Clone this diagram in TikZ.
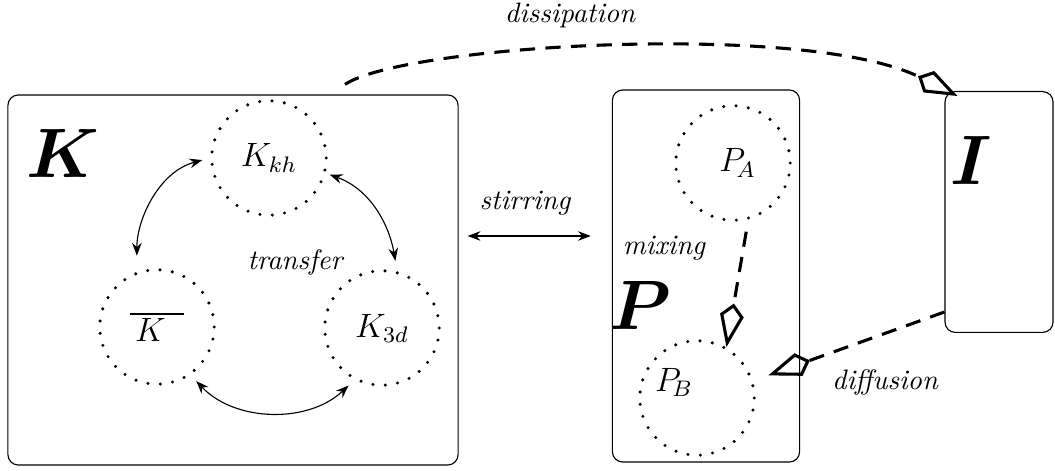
\documentclass[tikz,border=0pt]{standalone}
\usepackage{amsmath}
\usepackage{tikz}
\usetikzlibrary{arrows.meta, positioning, calc}

\begin{document}
\begin{tikzpicture}[x=0.0125cm, y=0.0125cm,
  box/.style={draw, thin, rounded corners=1.3mm, inner sep=0pt},
  blob/.style={draw, circle, line width=1.2pt, line cap=round,
               dash pattern=on 0pt off 1.55mm, minimum size=1.43cm,
               inner sep=0pt, font=\large},
  twoway/.style={{Stealth[length=1.6mm, width=1.2mm]}-{Stealth[length=1.6mm, width=1.2mm]}, thin},
  flow/.style={-{Kite[open, length=5.5mm, width=3mm, inset=1.5mm]},
               line width=1.1pt, dash pattern=on 1.9mm off 1.3mm},
  lbl/.style={font=\itshape},
  big/.style={font=\fontsize{31}{34}\selectfont\boldmath}
]
  \useasboundingbox (0,0) rectangle (1055,-471);

  % Boxes
  \node[box, minimum width=5.625cm, minimum height=4.625cm] (kbox) at (233,-280) {};
  \node[box, minimum width=2.34cm, minimum height=4.65cm] (pbox) at (706,-276) {};
  \node[box, minimum width=1.35cm, minimum height=3.01cm] (ibox) at (999,-212) {};

  % Box letters
  \node[big] (klbl) at (63,-153) {$K$};
  \node[big] (plbl) at (640,-305) {$P$};
  \node[big] (ilbl) at (971,-160) {$I$};

  % Dotted circles
  \node[blob] (kh) at (269,-158) {$K_{kh}$};
  \node[blob] (kbar) at (157,-327) {$\overline{\,K\;\;}$};
  \node[blob] (k3d) at (382,-328) {$K_{3d}$};
  \node[blob] (pa) at (733,-163) {$\;P_{\!A}$};
  \node[blob] (pb) at (697,-398) {};
  \node[font=\large] (pbtxt) at (674,-382) {$P_{\!B}$};

  % Labels
  \node[lbl] (transfer) at (295,-262) {transfer};
  \node[lbl] (stirring) at (525,-203) {stirring};
  \node[lbl] (mixing) at (664,-248) {mixing};
  \node[lbl] (diffusion) at (885,-382) {diffusion};
  \node[lbl] (dissipation) at (570,-15) {dissipation};

  % Transfer arrows
  \draw[twoway, shorten <=1mm, shorten >=2mm] (kh.180) to[out=195, in=90] (kbar.110);
  \draw[twoway, shorten <=0.5mm, shorten >=1.3mm] (kh.-15) to[out=-20, in=100] (k3d.75);
  \draw[twoway, shorten <=1mm, shorten >=1mm] (kbar.-55) to[bend right=45] (k3d.-118);

  % Stirring
  \draw[twoway] ($(kbox.east)+(9,44)$) -- ($(pbox.west)+(-21,40)$);

  % Dashed flows
  \draw[flow] ($(kbox.north)+(112,10)$) .. controls +(60,40) and +(-150,75) .. ($(ibox.north west)+(13,-5)$);
  \draw[flow, shorten <=1.5mm] (pa.-75) -- (pb.60);
  \draw[flow, shorten >=2mm] ($(ibox.south west)+(0,21)$) -- (pb.17);
\end{tikzpicture}
\end{document}
